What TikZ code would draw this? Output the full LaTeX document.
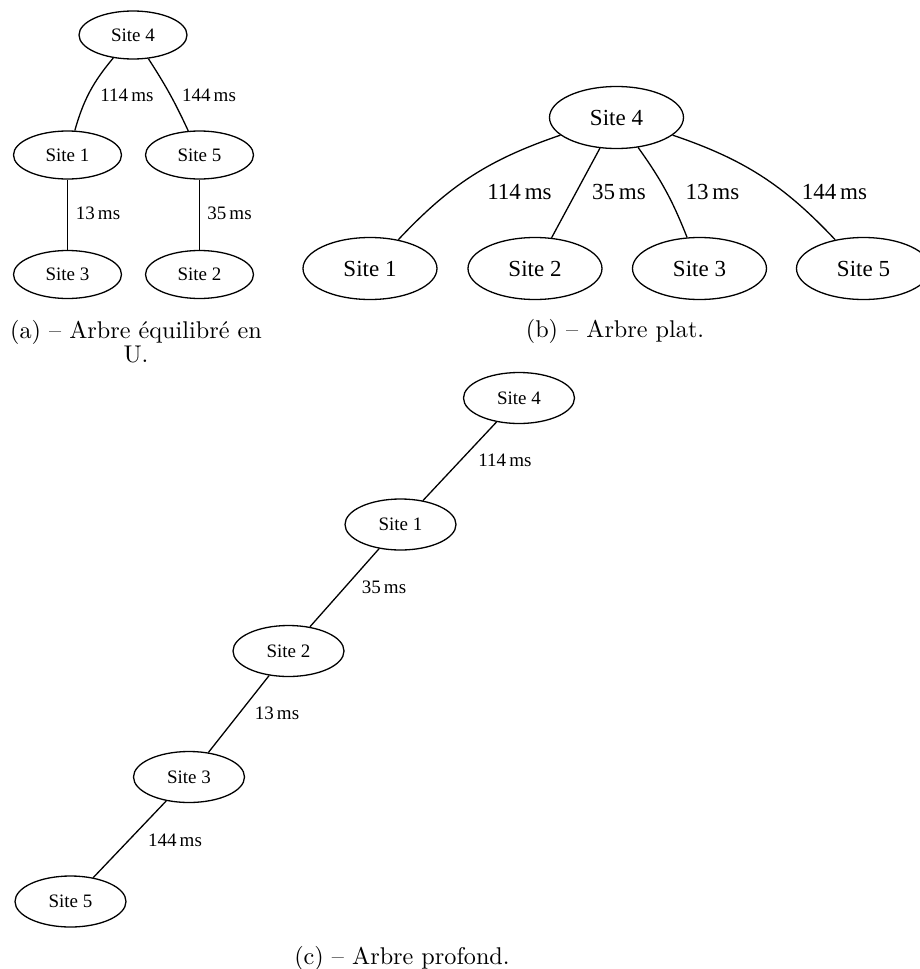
\documentclass[tikz,border=0pt]{standalone}
\usepackage{fontspec}
\newfontfamily\tms{Liberation Serif}
\newfontfamily\capfont{lmroman10-regular}[Extension=.otf,Ligatures=TeX]
\usetikzlibrary{shapes.geometric}
\begin{document}
\begin{tikzpicture}[x=1pt,y=1pt,
  site/.style={draw, ellipse, line width=1.3pt, inner sep=0pt,
    minimum width=108pt, minimum height=48pt,
    font=\tms\fontsize{19}{22}\selectfont},
  csite/.style={site, minimum width=111pt, minimum height=51pt},
  bigsite/.style={site, minimum width=134pt, minimum height=62pt,
    font=\tms\fontsize{23}{27}\selectfont},
  lbl/.style={inner sep=0pt, font=\tms\fontsize{19}{22}\selectfont},
  biglbl/.style={inner sep=0pt, font=\tms\fontsize{23}{27}\selectfont},
  captxt/.style={inner sep=0pt, anchor=base, font=\capfont\fontsize{24.2}{26}\selectfont},
  link/.style={line width=1.3pt}]
\clip (0,0) rectangle (920,-969);

% (a) balanced tree
\node[site] (a4) at (133,-35) {Site 4};
\node[site] (a1) at (67.5,-155) {Site 1};
\node[site] (a5) at (199.5,-155) {Site 5};
\node[site] (a3) at (67.5,-274.5) {Site 3};
\node[site] (a2) at (199.5,-274.5) {Site 2};
\draw[link] (a4) to[bend right=12] (a1);
\draw[link] (a4) to[bend left=4] (a5);
\draw[link] (a1) -- (a3);
\draw[link] (a5) -- (a2);
\node[lbl] (la41) at (127,-95) {114\,ms};
\node[lbl] (la45) at (209,-95) {144\,ms};
\node[lbl] (la13) at (98,-213) {13\,ms};
\node[lbl] (la52) at (229.5,-213) {35\,ms};
\node[captxt] (capa1) at (136,-338) {(a) -- Arbre équilibré en};
\node[captxt] (capa2) at (136,-362) {U.};

% (b) flat tree
\node[bigsite] (b4) at (616.5,-117.5) {Site 4};
\node[bigsite] (b1) at (370,-268.5) {Site 1};
\node[bigsite] (b2) at (535,-268.5) {Site 2};
\node[bigsite] (b3) at (699.5,-268.5) {Site 3};
\node[bigsite] (b5) at (863.5,-268.5) {Site 5};
\draw[link] (b4) to[bend right=14] (b1);
\draw[link] (b4) -- (b2);
\draw[link] (b4) to[bend left=7] (b3);
\draw[link] (b4) to[bend left=14] (b5);
\node[biglbl] (lb1) at (519.5,-192) {114\,ms};
\node[biglbl] (lb2) at (619,-192) {35\,ms};
\node[biglbl] (lb3) at (712.5,-192) {13\,ms};
\node[biglbl] (lb5) at (834.5,-192) {144\,ms};
\node[captxt] (capb) at (615,-337) {(b) -- Arbre plat.};

% (c) deep tree
\node[csite] (c4) at (519,-398) {Site 4};
\node[csite] (c1) at (400.5,-524.5) {Site 1};
\node[csite] (c2) at (288.5,-651) {Site 2};
\node[csite] (c3) at (189,-777) {Site 3};
\node[csite] (c5) at (70.5,-901.5) {Site 5};
\draw[link] (c4) -- (c1);
\draw[link] (c1) -- (c2);
\draw[link] (c2) -- (c3);
\draw[link] (c3) -- (c5);
\node[lbl] (lc41) at (505,-460) {114\,ms};
\node[lbl] (lc12) at (384,-587) {35\,ms};
\node[lbl] (lc23) at (277,-713) {13\,ms};
\node[lbl] (lc35) at (175,-840) {144\,ms};
\node[captxt] (capc) at (402,-964) {(c) -- Arbre profond.};
\end{tikzpicture}
\end{document}
